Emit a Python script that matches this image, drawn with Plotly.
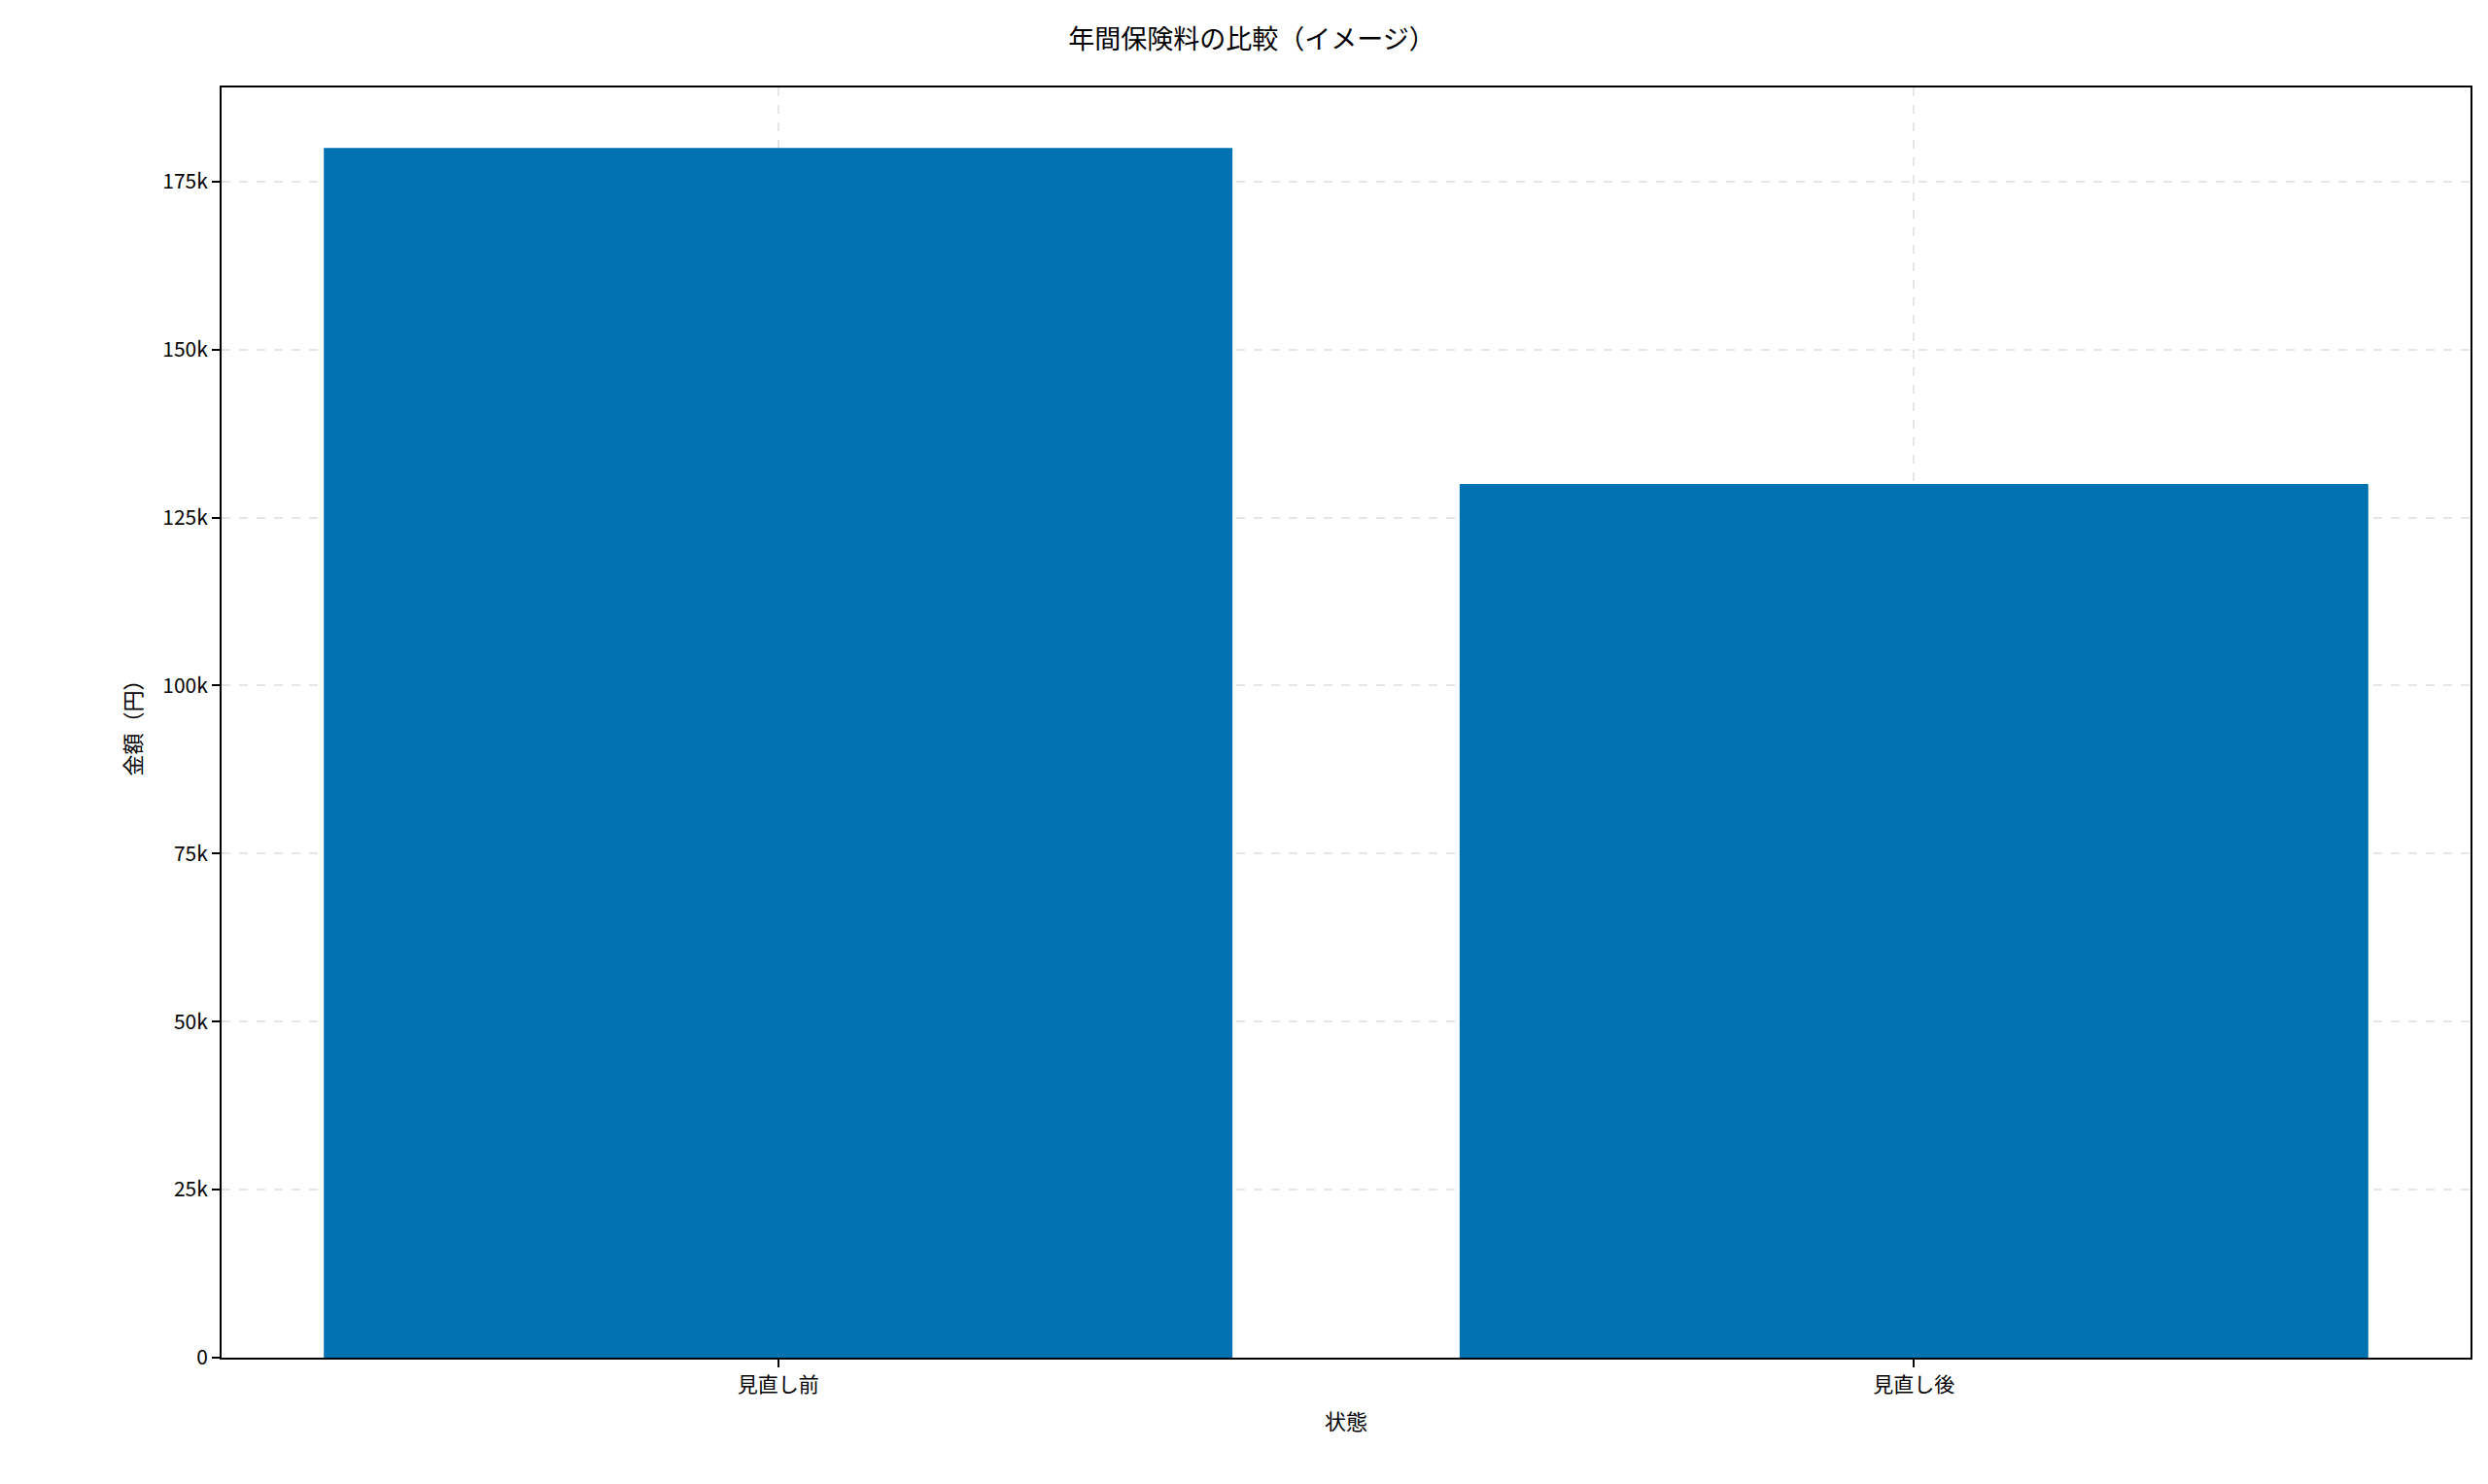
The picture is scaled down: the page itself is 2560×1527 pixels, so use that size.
import plotly.graph_objects as go

categories = ["見直し前", "見直し後"]
premiums = [180000, 130000]
tick_vals = [0, 25000, 50000, 75000, 100000, 125000, 150000, 175000]

font = "Noto Sans CJK JP"

fig = go.Figure(go.Bar(
    x=[0, 1], y=premiums, width=0.8,
    marker=dict(color="#0072B2", line=dict(width=0)),
))

axis_common = dict(
    showline=True, linecolor="black", linewidth=2, mirror=True,
    ticks="outside", ticklen=8, tickwidth=2, tickcolor="black",
    showgrid=True, gridcolor="rgba(200,200,200,0.45)", griddash="dash", gridwidth=2,
    zeroline=False, layer="above traces",
    tickfont=dict(family=font, size=21, color="black"),
)

fig.update_layout(
    width=2560, height=1527,
    paper_bgcolor="white", plot_bgcolor="white",
    margin=dict(l=220, r=26, t=82, b=138),
    title=dict(text="年間保険料の比較（イメージ）", x=0.5, xanchor="center", y=0.985,
               font=dict(family=font, size=27, color="black")),
    xaxis=dict(axis_common, tickvals=[0, 1], ticktext=categories, range=[-0.49, 1.49],
               title=dict(text="状態", font=dict(family=font, size=22, color="black"), standoff=18)),
    yaxis=dict(axis_common, tickvals=tick_vals, range=[0, 189000],
               title=dict(text="金額（円）", font=dict(family=font, size=22, color="black"), standoff=16)),
    showlegend=False,
)

fig.write_html("out.html")
